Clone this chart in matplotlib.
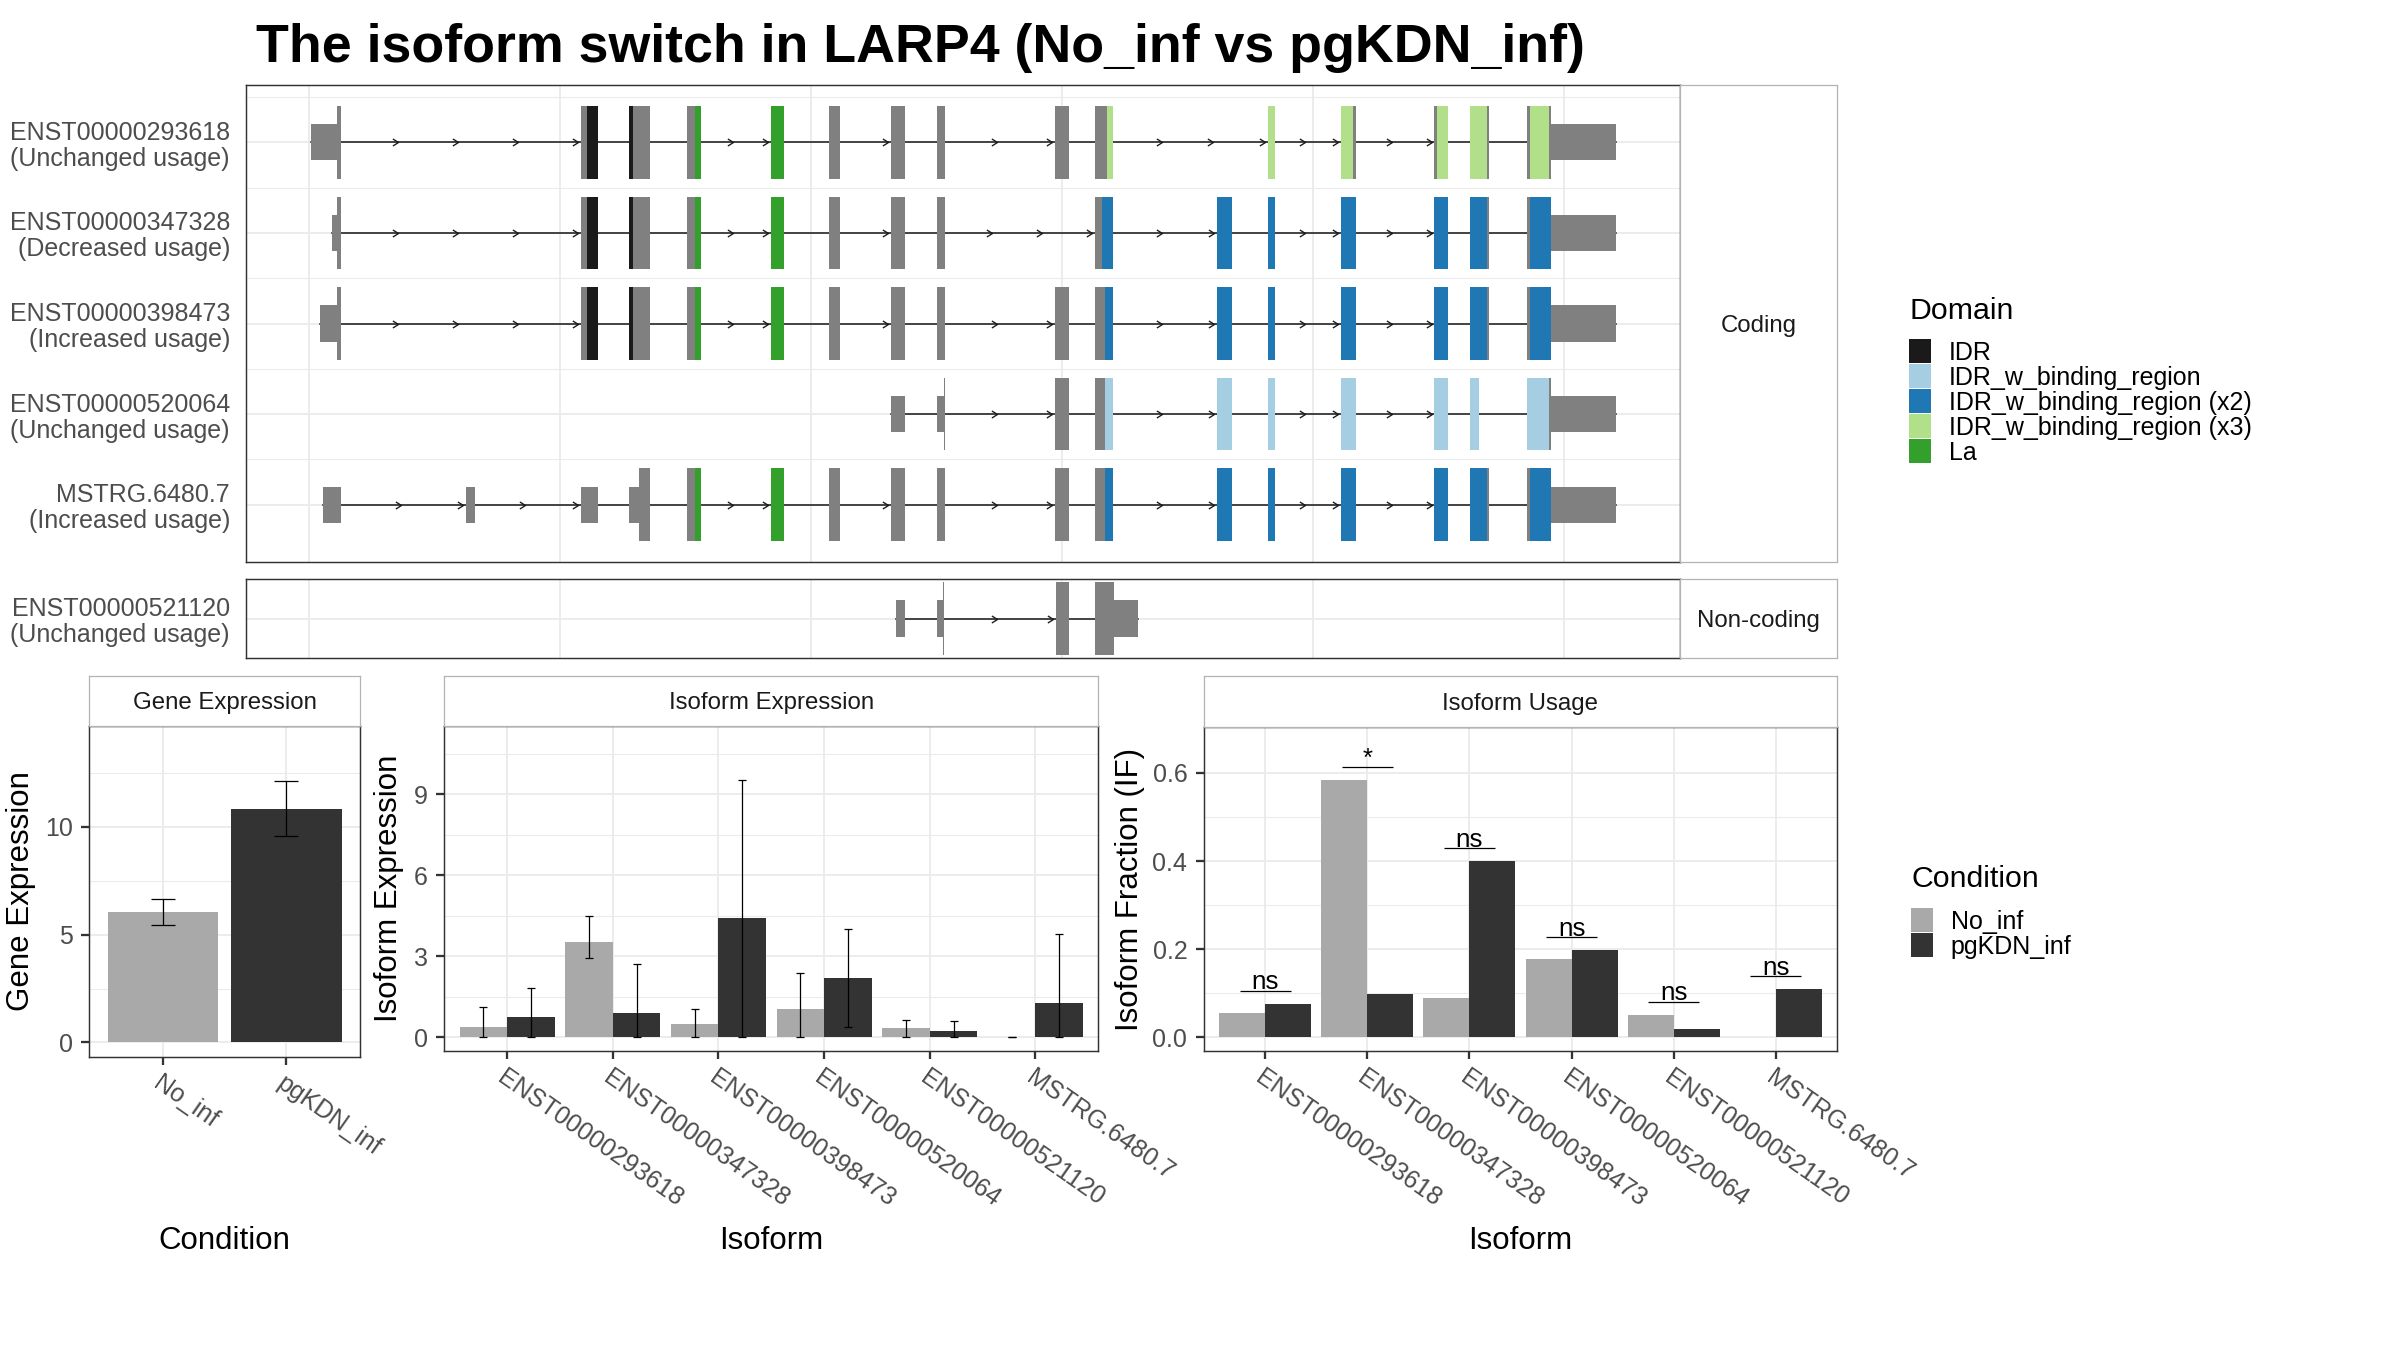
import numpy as np
import matplotlib.pyplot as plt
from matplotlib.path import Path
from matplotlib.patches import Rectangle

plt.rcParams['font.family'] = ['Liberation Sans', 'DejaVu Sans']

W, H = 2400, 1350
GRID = '#EBEBEB'
BORDER = '#333333'
STRIP_EDGE = '#B3B3B3'
AXIS_TXT = '#4D4D4D'
EXON_GREY = '#808080'
LINE = '#1A1A1A'

title = 'The isoform switch in LARP4 (No_inf vs pgKDN_inf)'

# ---- expression / usage data ----
conditions = ['No_inf', 'pgKDN_inf']
cond_colors = ['#A9A9A9', '#333333']

gene_expr = [6.05, 10.84]
gene_expr_lo = [5.46, 9.58]
gene_expr_hi = [6.67, 12.15]

isoforms = ['ENST00000293618', 'ENST00000347328', 'ENST00000398473',
            'ENST00000520064', 'ENST00000521120', 'MSTRG.6480.7']
iso_expr_no = [0.38, 3.53, 0.49, 1.05, 0.35, 0.0]
iso_expr_no_lo = [0.0, 2.93, 0.0, 0.0, 0.02, 0.0]
iso_expr_no_hi = [1.14, 4.51, 1.06, 2.37, 0.65, 0.0]
iso_expr_pg = [0.75, 0.91, 4.42, 2.20, 0.23, 1.27]
iso_expr_pg_lo = [0.0, 0.0, 0.0, 0.37, 0.0, 0.0]
iso_expr_pg_hi = [1.84, 2.73, 9.53, 4.02, 0.59, 3.81]

iso_usage_no = [0.055, 0.584, 0.089, 0.178, 0.051, 0.0]
iso_usage_pg = [0.076, 0.098, 0.400, 0.198, 0.020, 0.109]
usage_sig = ['ns', '*', 'ns', 'ns', 'ns', 'ns']

# ---- transcript structures (rescaled genomic coordinate, grid every 1.0) ----
domain_names = ['IDR', 'IDR_w_binding_region', 'IDR_w_binding_region (x2)',
                'IDR_w_binding_region (x3)', 'La']
domain_colors = ['#1A1A1A', '#A6CEE3', '#1F78B4', '#B2DF8A', '#33A02C']

coding_ids = ['ENST00000293618', 'ENST00000347328', 'ENST00000398473',
              'ENST00000520064', 'MSTRG.6480.7']
coding_usage = ['Unchanged usage', 'Decreased usage', 'Increased usage',
                'Unchanged usage', 'Increased usage']
noncoding_ids = ['ENST00000521120']
noncoding_usage = ['Unchanged usage']

exons_293618 = [(0.006, 0.126), (1.081, 1.150), (1.276, 1.356), (1.504, 1.561), (1.839, 1.890),
                (2.073, 2.114), (2.317, 2.372), (2.500, 2.533), (2.971, 3.029), (3.130, 3.201),
                (3.819, 3.847), (4.110, 4.169), (4.482, 4.536), (4.624, 4.699), (4.853, 5.206)]
exons_347328 = [(0.089, 0.126), (1.081, 1.150), (1.276, 1.356), (1.504, 1.561), (1.839, 1.890),
                (2.073, 2.114), (2.317, 2.372), (2.500, 2.533), (3.130, 3.201), (3.616, 3.675),
                (3.819, 3.847), (4.110, 4.169), (4.482, 4.536), (4.624, 4.699), (4.853, 5.206)]
exons_398473 = [(0.043, 0.126), (1.081, 1.150), (1.276, 1.356), (1.504, 1.561), (1.839, 1.890),
                (2.073, 2.114), (2.317, 2.372), (2.500, 2.533), (2.971, 3.029), (3.130, 3.201),
                (3.616, 3.675), (3.819, 3.847), (4.110, 4.169), (4.482, 4.536), (4.624, 4.699),
                (4.853, 5.206)]
exons_520064 = [(2.317, 2.372), (2.500, 2.533), (2.971, 3.029), (3.130, 3.201), (3.616, 3.675),
                (3.819, 3.847), (4.110, 4.169), (4.482, 4.536), (4.624, 4.662), (4.853, 5.206)]
exons_6480 = [(0.055, 0.126), (0.624, 0.661), (1.081, 1.150), (1.276, 1.356), (1.504, 1.561),
              (1.839, 1.890), (2.073, 2.114), (2.317, 2.372), (2.500, 2.533), (2.971, 3.029),
              (3.130, 3.201), (3.616, 3.675), (3.819, 3.847), (4.110, 4.169), (4.482, 4.536),
              (4.624, 4.699), (4.853, 5.206)]
exons_521120 = [(2.340, 2.372), (2.500, 2.529), (2.975, 3.027), (3.131, 3.302)]

cds_coding = [(0.112, 4.948), (0.112, 4.948), (0.112, 4.948), (2.528, 4.948), (1.313, 4.948)]
cds_noncoding = [(2.525, 3.207)]

dom_293618 = [(1.106, 1.150, 'IDR'), (1.276, 1.289, 'IDR'), (1.537, 1.561, 'La'), (1.839, 1.890, 'La'),
              (3.177, 3.201, 'IDR_w_binding_region (x3)'), (3.819, 3.847, 'IDR_w_binding_region (x3)'),
              (4.110, 4.161, 'IDR_w_binding_region (x3)'), (4.494, 4.536, 'IDR_w_binding_region (x3)'),
              (4.624, 4.692, 'IDR_w_binding_region (x3)'), (4.864, 4.939, 'IDR_w_binding_region (x3)')]
dom_347328 = [(1.106, 1.150, 'IDR'), (1.276, 1.289, 'IDR'), (1.537, 1.561, 'La'), (1.839, 1.890, 'La'),
              (3.157, 3.201, 'IDR_w_binding_region (x2)'), (3.616, 3.675, 'IDR_w_binding_region (x2)'),
              (3.819, 3.847, 'IDR_w_binding_region (x2)'), (4.110, 4.169, 'IDR_w_binding_region (x2)'),
              (4.482, 4.536, 'IDR_w_binding_region (x2)'), (4.624, 4.692, 'IDR_w_binding_region (x2)'),
              (4.866, 4.946, 'IDR_w_binding_region (x2)')]
dom_398473 = [(1.106, 1.150, 'IDR'), (1.276, 1.289, 'IDR'), (1.537, 1.561, 'La'), (1.839, 1.890, 'La'),
              (3.170, 3.201, 'IDR_w_binding_region (x2)'), (3.616, 3.675, 'IDR_w_binding_region (x2)'),
              (3.819, 3.847, 'IDR_w_binding_region (x2)'), (4.110, 4.169, 'IDR_w_binding_region (x2)'),
              (4.482, 4.536, 'IDR_w_binding_region (x2)'), (4.624, 4.692, 'IDR_w_binding_region (x2)'),
              (4.866, 4.946, 'IDR_w_binding_region (x2)')]
dom_520064 = [(3.170, 3.201, 'IDR_w_binding_region'), (3.616, 3.675, 'IDR_w_binding_region'),
              (3.819, 3.847, 'IDR_w_binding_region'), (4.110, 4.169, 'IDR_w_binding_region'),
              (4.482, 4.536, 'IDR_w_binding_region'), (4.624, 4.662, 'IDR_w_binding_region'),
              (4.853, 4.941, 'IDR_w_binding_region')]
dom_6480 = [(1.537, 1.561, 'La'), (1.839, 1.890, 'La'),
            (3.170, 3.201, 'IDR_w_binding_region (x2)'), (3.616, 3.675, 'IDR_w_binding_region (x2)'),
            (3.819, 3.847, 'IDR_w_binding_region (x2)'), (4.110, 4.169, 'IDR_w_binding_region (x2)'),
            (4.482, 4.536, 'IDR_w_binding_region (x2)'), (4.624, 4.692, 'IDR_w_binding_region (x2)'),
            (4.866, 4.946, 'IDR_w_binding_region (x2)')]

coding_exons = [exons_293618, exons_347328, exons_398473, exons_520064, exons_6480]
coding_domains = [dom_293618, dom_347328, dom_398473, dom_520064, dom_6480]


fig = plt.figure(figsize=(16, 9), dpi=150)


def px_axes(x0, y0, x1, y1):
    # axes placed by pixel box (top-left origin)
    return fig.add_axes([x0 / W, 1 - y1 / H, (x1 - x0) / W, (y1 - y0) / H])


def frame(ax):
    for s in ax.spines.values():
        s.set_color(BORDER)
        s.set_linewidth(0.7)


def strip(x0, y0, x1, y1, label):
    ax = px_axes(x0, y0, x1, y1)
    ax.set_xticks([])
    ax.set_yticks([])
    for s in ax.spines.values():
        s.set_color(STRIP_EDGE)
        s.set_linewidth(0.6)
    ax.text(0.5, 0.5, label, transform=ax.transAxes, ha='center', va='center_baseline',
            fontsize=11.5, color='#1A1A1A')


ov = px_axes(0, 0, W, H)
ov.set_xlim(0, W)
ov.set_ylim(H, 0)
ov.axis('off')

ov.text(256, 61.7, title, fontsize=25.8, fontweight='bold', ha='left', va='baseline')

chevron = Path([(-1.6, 1), (0, 0), (-1.6, -1)], [Path.MOVETO, Path.LINETO, Path.LINETO])


def draw_transcript(ax, row, exons, cds, domains):
    ax.plot([exons[0][0], exons[-1][1]], [row, row], color=LINE, lw=0.75, zorder=2)
    for (_, a1), (b0, _) in zip(exons[:-1], exons[1:]):
        gap = b0 - a1
        if gap > 0.2:
            n = int(np.ceil(gap / 0.25))
            xs = a1 + gap * np.arange(1, n + 1) / n - 0.01
            ax.plot(xs, np.full(n, row), ls='none', marker=chevron, ms=5.4, mew=0.65,
                    mfc='none', mec=LINE, zorder=2)
    c0, c1 = cds
    for e0, e1 in exons:
        pieces = [(e0, min(e1, c0), 0.2), (max(e0, c0), min(e1, c1), 0.4), (max(e0, c1), e1, 0.2)]
        for p0, p1, h in pieces:
            if p1 > p0:
                ax.bar(p0, 2 * h, width=p1 - p0, bottom=row - h, align='edge',
                       color=EXON_GREY, lw=0, zorder=3)
    for d0, d1, name in domains:
        ax.bar(d0, 0.8, width=d1 - d0, bottom=row - 0.4, align='edge',
               color=domain_colors[domain_names.index(name)], lw=0, zorder=4)


def structure_axes(ax, ids, usage, n_rows, pad):
    rows = np.arange(1, n_rows + 1)
    ax.set_xlim(-0.252, 5.462)
    ax.set_ylim(n_rows + pad, 1 - pad)
    ax.set_xticks(range(6))
    ax.set_xticklabels([])
    ax.set_yticks(rows, [f'{i}\n({u})' for i, u in zip(ids, usage)])
    if n_rows > 1:
        ax.set_yticks(rows - 0.5, minor=True)
    ax.tick_params(axis='both', which='both', length=0)
    ax.tick_params(axis='y', labelsize=12, labelcolor=AXIS_TXT, pad=7.7)
    for lbl in ax.get_yticklabels():
        lbl.set_linespacing(1.1)
    ax.grid(which='major', color=GRID, lw=0.9)
    ax.grid(which='minor', axis='y', color=GRID, lw=0.5)
    ax.set_axisbelow(True)
    frame(ax)


ax_c = px_axes(246, 85, 1680, 562)
for r, (ex, cds, dom) in enumerate(zip(coding_exons, cds_coding, coding_domains), start=1):
    draw_transcript(ax_c, r, ex, cds, dom)
structure_axes(ax_c, coding_ids, coding_usage, 5, 0.632)
strip(1680, 85, 1837, 562, 'Coding')

ax_n = px_axes(246, 579, 1680, 658)
draw_transcript(ax_n, 1, exons_521120, cds_noncoding[0], [])
structure_axes(ax_n, noncoding_ids, noncoding_usage, 1, 0.435)
strip(1680, 579, 1837, 658, 'Non-coding')


def bar_style(ax, xlim, ylim, yticks, ylabels, yminor, xticks, xlabels):
    ax.set_xlim(*xlim)
    ax.set_ylim(*ylim)
    ax.set_yticks(yticks, ylabels)
    ax.set_yticks(yminor, minor=True)
    ax.set_xticks(xticks, xlabels, rotation=-35, ha='left', va='top', rotation_mode='anchor')
    ax.tick_params(axis='both', which='major', color=BORDER, width=1.1, length=3.8,
                   labelsize=12, labelcolor=AXIS_TXT)
    ax.tick_params(axis='y', pad=4)
    ax.tick_params(axis='x', pad=3)
    ax.tick_params(which='minor', length=0)
    ax.grid(which='major', color=GRID, lw=0.9)
    ax.grid(which='minor', axis='y', color=GRID, lw=0.5)
    ax.set_axisbelow(True)
    frame(ax)


# Gene expression
ax_g = px_axes(89.3, 725.7, 360, 1056.7)
xg = np.arange(1, len(conditions) + 1)
ge = np.array(gene_expr)
ax_g.bar(xg, ge, width=0.9, color=cond_colors, zorder=2)
ax_g.errorbar(xg, ge, yerr=[ge - np.array(gene_expr_lo), np.array(gene_expr_hi) - ge],
              fmt='none', ecolor='black', elinewidth=0.6, capsize=5.6, capthick=0.6, zorder=3)
bar_style(ax_g, (0.4, 2.6), (-0.666, 14.7), [0, 5, 10], ['0', '5', '10'], [2.5, 7.5, 12.5],
          xg, conditions)
strip(89.3, 676, 360, 725.7, 'Gene Expression')

# Isoform expression
ax_e = px_axes(444.3, 726, 1098.3, 1051)
xi = np.arange(1, len(isoforms) + 1)
no = np.array(iso_expr_no)
pg = np.array(iso_expr_pg)
ax_e.bar(xi - 0.225, no, width=0.45, color=cond_colors[0], zorder=2)
ax_e.bar(xi + 0.225, pg, width=0.45, color=cond_colors[1], zorder=2)
ax_e.errorbar(xi - 0.225, no, yerr=[no - np.array(iso_expr_no_lo), np.array(iso_expr_no_hi) - no],
              fmt='none', ecolor='black', elinewidth=0.6, capsize=2.1, capthick=0.6, zorder=3)
ax_e.errorbar(xi + 0.225, pg, yerr=[pg - np.array(iso_expr_pg_lo), np.array(iso_expr_pg_hi) - pg],
              fmt='none', ecolor='black', elinewidth=0.6, capsize=2.1, capthick=0.6, zorder=3)
bar_style(ax_e, (0.405, 6.595), (-0.506, 11.53), [0, 3, 6, 9], ['0', '3', '6', '9'],
          [1.5, 4.5, 7.5, 10.5], xi, isoforms)
strip(444.3, 676, 1098.3, 726, 'Isoform Expression')

# Isoform usage
ax_u = px_axes(1203.5, 726.7, 1836.6, 1051)
uno = np.array(iso_usage_no)
upg = np.array(iso_usage_pg)
ax_u.bar(xi - 0.225, uno, width=0.45, color=cond_colors[0], zorder=2)
ax_u.bar(xi + 0.225, upg, width=0.45, color=cond_colors[1], zorder=2)
sig_y = np.maximum(uno, upg) + 0.03
ax_u.hlines(sig_y, xi - 0.25, xi + 0.25, color='black', lw=0.6, zorder=3)
for x, y, s in zip(xi, sig_y, usage_sig):
    ax_u.text(x, y + 0.003, s, ha='center', va='baseline', fontsize=12.5, color='black')
bar_style(ax_u, (0.397, 6.594), (-0.031, 0.705), [0, 0.2, 0.4, 0.6], ['0.0', '0.2', '0.4', '0.6'],
          [0.1, 0.3, 0.5], xi, isoforms)
strip(1203.5, 676, 1836.6, 726.7, 'Isoform Usage')

# axis titles
ov.text(21.4, 891, 'Gene Expression', rotation=90, ha='center', va='center', fontsize=15)
ov.text(389, 888.5, 'Isoform Expression', rotation=90, ha='center', va='center', fontsize=15)
ov.text(1130, 889, 'Isoform Fraction (IF)', rotation=90, ha='center', va='center', fontsize=15)
ov.text(224.6, 1249, 'Condition', ha='center', va='baseline', fontsize=15)
ov.text(771.3, 1249, 'Isoform', ha='center', va='baseline', fontsize=15)
ov.text(1520, 1249, 'Isoform', ha='center', va='baseline', fontsize=15)

# legends
ov.text(1910, 319, 'Domain', fontsize=14.5, ha='left', va='baseline')
for i, (name, col) in enumerate(zip(domain_names, domain_colors)):
    top = 339.3 + 25 * i
    ov.add_patch(Rectangle((1909, top), 22, 23.3, color=col, lw=0))
    ov.text(1949, top + 20.6, name, fontsize=12, ha='left', va='baseline')

ov.text(1911.7, 887, 'Condition', fontsize=14.5, ha='left', va='baseline')
for i, (name, col) in enumerate(zip(conditions, cond_colors)):
    top = 908 + 25 * i
    ov.add_patch(Rectangle((1911, top), 22, 23.5, color=col, lw=0))
    ov.text(1950.7, top + 21, name, fontsize=12, ha='left', va='baseline')

fig.savefig('out.png', dpi=150)
